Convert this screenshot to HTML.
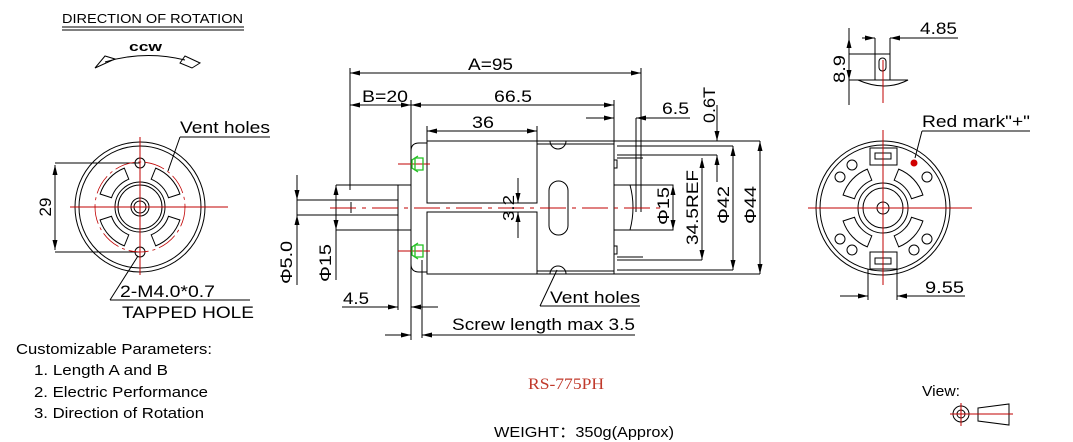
<!DOCTYPE html>
<html><head><meta charset="utf-8"><style>
html,body{margin:0;padding:0;background:#fff;}
svg{display:block;}
text{font-family:"Liberation Sans",Arial,sans-serif;fill:#000;}
</style></head><body>
<svg width="1073" height="442" viewBox="0 0 1073 442" xmlns="http://www.w3.org/2000/svg">
<defs>
<marker id="a" viewBox="0 0 10 6" refX="10" refY="3" markerWidth="10" markerHeight="6" markerUnits="userSpaceOnUse" orient="auto-start-reverse"><path d="M0,0.5 L10,3 L0,5.5 Z" fill="#000"/></marker>
</defs>
<g fill="none" stroke="#000" stroke-width="1">
<!-- Direction of rotation -->
<line x1="62" y1="27" x2="244" y2="27"/><line x1="62" y1="30" x2="244" y2="30"/>
<path d="M105,62 Q145,50 185,60"/>
<path d="M95,68 L105,56 L115,59 Z"/>
<path d="M180,63 L185,56 L200,63 L192,68 Z"/>

<!-- Left front view -->
<circle cx="140" cy="207" r="65"/><circle cx="140" cy="207" r="61"/>
<circle cx="140" cy="207" r="25"/><circle cx="140" cy="207" r="22"/>
<circle cx="140" cy="207" r="9"/><circle cx="140" cy="207" r="6"/>
<circle cx="140" cy="163" r="5"/><circle cx="140" cy="252" r="5"/>
<path d="M179.9,194 A42 42 0 0 0 155.7,168.1 L151.2,179.2 A30 30 0 0 1 168.5,197.7 Z"/>
<path d="M124.3,168.1 A42 42 0 0 0 100.1,194 L111.5,197.7 A30 30 0 0 1 128.8,179.2 Z"/>
<path d="M155.7,245.9 A42 42 0 0 0 179.9,220 L168.5,216.3 A30 30 0 0 1 151.2,234.8 Z"/>
<path d="M100.1,220 A42 42 0 0 0 124.3,245.9 L128.8,234.8 A30 30 0 0 1 111.5,216.3 Z"/>
<line x1="55" y1="163" x2="140" y2="163"/><line x1="55" y1="252" x2="140" y2="252"/>
<line x1="55" y1="165" x2="55" y2="250" marker-start="url(#a)" marker-end="url(#a)"/>
<path d="M180,137 L270,137 M180,137 L168,171" /><path d="M110,300 L250,300 M110,300 L138,256"/>

<!-- Center side view -->
<line x1="350" y1="68" x2="350" y2="190"/>
<line x1="641" y1="68" x2="641" y2="212"/>
<line x1="350" y1="73" x2="641" y2="73" marker-start="url(#a)" marker-end="url(#a)"/>
<line x1="411" y1="100" x2="411" y2="340"/>
<line x1="350" y1="105" x2="411" y2="105" marker-start="url(#a)" marker-end="url(#a)"/>
<line x1="411" y1="105" x2="614" y2="105" marker-start="url(#a)" marker-end="url(#a)"/>
<line x1="614" y1="100" x2="614" y2="141"/>
<line x1="427" y1="126" x2="427" y2="141"/><line x1="537" y1="126" x2="537" y2="141"/>
<line x1="427" y1="131" x2="537" y2="131" marker-start="url(#a)" marker-end="url(#a)"/>
<!-- can -->
<rect x="427" y="141" width="110" height="62"/><rect x="427" y="212" width="110" height="62"/>
<path d="M537,141 L614,141 L614,274 L537,274"/>
<line x1="537" y1="144" x2="614" y2="144"/><line x1="537" y1="271" x2="614" y2="271"/>
<path d="M550,141 A8 8 0 0 0 566,141"/><path d="M550,274 A8 8 0 0 1 566,274"/>
<rect x="549" y="181" width="19" height="54" rx="9.5"/>
<!-- front plate -->
<path d="M427,143 L419,143 Q411,143 411,151 L411,264 Q411,272 419,272 L427,272"/>
<!-- boss + shaft -->
<path d="M411,185 L336,185 M336,230 L411,230 M398,185 L398,230"/>
<line x1="297" y1="200" x2="398" y2="200"/><line x1="297" y1="215" x2="398" y2="215"/>
<line x1="351" y1="202" x2="351" y2="213"/>
<!-- rear -->
<line x1="614" y1="141" x2="760" y2="141"/>
<line x1="614" y1="274" x2="760" y2="274"/>
<line x1="617" y1="146" x2="733" y2="146"/><line x1="617" y1="270" x2="733" y2="270"/>
<rect x="614" y="160" width="3" height="8"/><rect x="614" y="246" width="3" height="8"/>
<rect x="614" y="185" width="59" height="45"/>
<path d="M630,185 Q636,207 630,230"/>
<line x1="617" y1="155" x2="717" y2="155"/><line x1="617" y1="158" x2="643" y2="158"/>
<line x1="617" y1="260" x2="702" y2="260"/><line x1="617" y1="257" x2="643" y2="257"/>
<line x1="636" y1="118" x2="636" y2="212"/>
<line x1="586" y1="118" x2="614" y2="118" marker-end="url(#a)"/>
<line x1="690" y1="118" x2="636" y2="118" marker-end="url(#a)"/>
<line x1="717" y1="105" x2="717" y2="141" marker-end="url(#a)"/>
<line x1="717" y1="182" x2="717" y2="155" marker-end="url(#a)"/>
<line x1="673" y1="185" x2="673" y2="230" marker-start="url(#a)" marker-end="url(#a)"/>
<line x1="702" y1="158" x2="702" y2="260" marker-start="url(#a)" marker-end="url(#a)"/>
<line x1="733" y1="146" x2="733" y2="270" marker-start="url(#a)" marker-end="url(#a)"/>
<line x1="760" y1="141" x2="760" y2="274" marker-start="url(#a)" marker-end="url(#a)"/>
<!-- left dims -->
<line x1="297" y1="175" x2="297" y2="285"/>
<line x1="297" y1="180" x2="297" y2="200" marker-end="url(#a)"/>
<line x1="297" y1="235" x2="297" y2="215" marker-end="url(#a)"/>
<line x1="336" y1="185" x2="336" y2="280" marker-start="url(#a)"/>
<line x1="336" y1="185" x2="336" y2="230" marker-end="url(#a)"/>
<line x1="398" y1="230" x2="398" y2="310"/>
<line x1="422" y1="260" x2="422" y2="338"/>
<line x1="342" y1="307" x2="398" y2="307" marker-end="url(#a)"/>
<line x1="438" y1="307" x2="411" y2="307" marker-end="url(#a)"/>
<line x1="385" y1="335" x2="411" y2="335" marker-end="url(#a)"/>
<line x1="635" y1="335" x2="422" y2="335" marker-end="url(#a)"/>
<line x1="518" y1="178" x2="518" y2="203" marker-end="url(#a)"/>
<line x1="518" y1="238" x2="518" y2="212" marker-end="url(#a)"/>
<path d="M540,306 L640,306 M540,306 L557,270"/>

<!-- Right top small view -->
<path d="M875,38 L875,80 M890,38 L890,80 M875,54 L890,54"/>
<rect x="879" y="58" width="7" height="13" rx="3.5"/>
<path d="M858,80 L908,80 Q885,92 858,80 Z"/>
<line x1="849" y1="28" x2="849" y2="105"/>
<line x1="849" y1="54" x2="875" y2="54"/><line x1="849" y1="80" x2="860" y2="80"/>
<line x1="849" y1="38" x2="849" y2="54" marker-start="url(#a)"/>
<line x1="849" y1="60" x2="849" y2="80" marker-end="url(#a)"/>
<line x1="862" y1="38" x2="875" y2="38" marker-end="url(#a)"/>
<line x1="958" y1="38" x2="890" y2="38" marker-end="url(#a)"/>

<!-- Right end view -->
<circle cx="883" cy="208" r="67"/><circle cx="883" cy="208" r="63"/>
<circle cx="883" cy="208" r="25"/><circle cx="883" cy="208" r="20"/>
<circle cx="883" cy="208" r="6"/>
<g transform="translate(743,1)">
<path d="M179.9,194 A42 42 0 0 0 155.7,168.1 L151.2,179.2 A30 30 0 0 1 168.5,197.7 Z"/>
<path d="M124.3,168.1 A42 42 0 0 0 100.1,194 L111.5,197.7 A30 30 0 0 1 128.8,179.2 Z"/>
<path d="M155.7,245.9 A42 42 0 0 0 179.9,220 L168.5,216.3 A30 30 0 0 1 151.2,234.8 Z"/>
<path d="M100.1,220 A42 42 0 0 0 124.3,245.9 L128.8,234.8 A30 30 0 0 1 111.5,216.3 Z"/>
</g>
<circle cx="852" cy="165" r="5"/><circle cx="840" cy="177" r="5"/>
<circle cx="927" cy="177" r="5"/>
<circle cx="840" cy="239" r="5"/><circle cx="852" cy="250" r="5"/>
<circle cx="914" cy="250" r="5"/><circle cx="927" cy="239" r="5"/>
<rect x="870" y="148" width="27" height="17" fill="#fff"/><rect x="875" y="153" width="16" height="6"/>
<rect x="870" y="252" width="27" height="17" fill="#fff"/><rect x="875" y="258" width="16" height="6"/>
<line x1="868" y1="269" x2="868" y2="300"/><line x1="897" y1="269" x2="897" y2="300"/>
<line x1="840" y1="296" x2="868" y2="296" marker-end="url(#a)"/>
<line x1="965" y1="296" x2="897" y2="296" marker-end="url(#a)"/>
<path d="M922,131 L1030,131 M922,131 L915,158"/>

<!-- view icon -->
<circle cx="961" cy="414" r="8"/><circle cx="961" cy="414" r="4"/>
<path d="M978,408 L1009,404 L1009,425 L978,421 Z"/>
</g>

<!-- red / green -->
<g stroke="#c00000" stroke-width="1" fill="none">
<line x1="140" y1="137" x2="140" y2="275"/><line x1="70" y1="207" x2="228" y2="207"/>
<circle cx="140" cy="207" r="45" stroke-dasharray="20 4 3 4" stroke-width="0.8"/>
<line x1="330" y1="208" x2="660" y2="208" stroke-dasharray="26 6 4 6"/>
<line x1="398" y1="164" x2="430" y2="164"/><line x1="398" y1="251" x2="430" y2="251"/>
<line x1="883" y1="60" x2="883" y2="103"/>
<line x1="883" y1="130" x2="883" y2="285"/><line x1="808" y1="208" x2="972" y2="208"/>
<line x1="950" y1="414" x2="1013" y2="414"/><line x1="961" y1="403" x2="961" y2="426"/>
</g>
<circle cx="914" cy="163" r="3.5" fill="#d00000"/>
<g stroke="#22c022" fill="none" stroke-width="1.3">
<path d="M418,156 L412,160 L412,168 L418,172 M415,158 L423,158 L423,170 L415,170 Z"/>
<path d="M418,243 L412,247 L412,255 L418,259 M415,245 L423,245 L423,257 L415,257 Z"/>
</g>

<!-- texts -->
<text x="62" y="23" font-size="13" textLength="181" lengthAdjust="spacingAndGlyphs">DIRECTION OF ROTATION</text>
<text x="129" y="51" font-size="13" font-weight="bold" textLength="33" lengthAdjust="spacingAndGlyphs">ccw</text>
<text x="180" y="133" font-size="17" textLength="90" lengthAdjust="spacingAndGlyphs">Vent holes</text>
<text x="120" y="297" font-size="17" textLength="95" lengthAdjust="spacingAndGlyphs">2-M4.0*0.7</text>
<text x="122" y="318" font-size="17" textLength="132" lengthAdjust="spacingAndGlyphs">TAPPED HOLE</text>
<text transform="translate(51,207) rotate(-90)" font-size="17" text-anchor="middle">29</text>
<text x="468" y="70" font-size="17" textLength="45" lengthAdjust="spacingAndGlyphs">A=95</text>
<text x="362" y="102" font-size="17" textLength="46" lengthAdjust="spacingAndGlyphs">B=20</text>
<text x="494" y="102" font-size="17" textLength="38" lengthAdjust="spacingAndGlyphs">66.5</text>
<text x="472" y="128" font-size="17" textLength="22" lengthAdjust="spacingAndGlyphs">36</text>
<text x="662" y="114" font-size="17" textLength="27" lengthAdjust="spacingAndGlyphs">6.5</text>
<text transform="translate(715,123) rotate(-90)" font-size="17" textLength="36" lengthAdjust="spacingAndGlyphs">0.6T</text>
<text transform="translate(669,225) rotate(-90)" font-size="17" textLength="38" lengthAdjust="spacingAndGlyphs">Φ15</text>
<text transform="translate(698,245) rotate(-90)" font-size="17" textLength="75" lengthAdjust="spacingAndGlyphs">34.5REF</text>
<text transform="translate(729,224) rotate(-90)" font-size="17" textLength="38" lengthAdjust="spacingAndGlyphs">Φ42</text>
<text transform="translate(756,224) rotate(-90)" font-size="17" textLength="38" lengthAdjust="spacingAndGlyphs">Φ44</text>
<text transform="translate(514,221) rotate(-90)" font-size="16" textLength="26" lengthAdjust="spacingAndGlyphs">3.2</text>
<text transform="translate(292,284) rotate(-90)" font-size="17" textLength="43" lengthAdjust="spacingAndGlyphs">Φ5.0</text>
<text transform="translate(331,282) rotate(-90)" font-size="17" textLength="38" lengthAdjust="spacingAndGlyphs">Φ15</text>
<text x="343" y="304" font-size="17" textLength="26" lengthAdjust="spacingAndGlyphs">4.5</text>
<text x="452" y="330" font-size="17" textLength="183" lengthAdjust="spacingAndGlyphs">Screw length max 3.5</text>
<text x="550" y="303" font-size="17" textLength="90" lengthAdjust="spacingAndGlyphs">Vent holes</text>
<text x="920" y="34" font-size="17" textLength="37" lengthAdjust="spacingAndGlyphs">4.85</text>
<text transform="translate(845,83) rotate(-90)" font-size="17" textLength="28" lengthAdjust="spacingAndGlyphs">8.9</text>
<text x="922" y="127" font-size="17" textLength="108" lengthAdjust="spacingAndGlyphs">Red mark"+"</text>
<text x="925" y="293" font-size="17" textLength="39" lengthAdjust="spacingAndGlyphs">9.55</text>
<text x="16" y="354" font-size="15" textLength="196" lengthAdjust="spacingAndGlyphs">Customizable Parameters:</text>
<text x="34" y="375" font-size="15" textLength="134" lengthAdjust="spacingAndGlyphs">1. Length A and B</text>
<text x="34" y="397" font-size="15" textLength="174" lengthAdjust="spacingAndGlyphs">2. Electric Performance</text>
<text x="34" y="418" font-size="15" textLength="170" lengthAdjust="spacingAndGlyphs">3. Direction of Rotation</text>
<text x="528" y="389" font-size="16" style="font-family:'Liberation Serif',serif;fill:#c0392b" textLength="76" lengthAdjust="spacingAndGlyphs">RS-775PH</text>
<text x="494" y="437" font-size="15" textLength="180" lengthAdjust="spacingAndGlyphs">WEIGHT：350g(Approx)</text>
<text x="922" y="396" font-size="15" textLength="38" lengthAdjust="spacingAndGlyphs">View:</text>
</svg>
</body></html>
